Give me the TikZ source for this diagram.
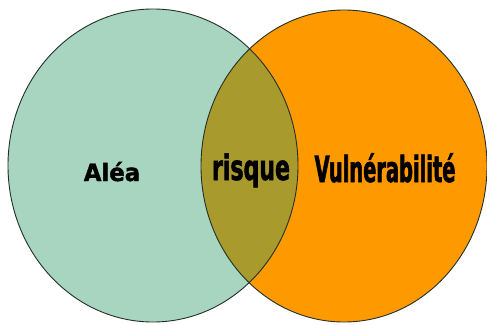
\documentclass[tikz,border=0pt]{standalone}
\usepackage{xcolor}
\usepackage{tikz}
\usepackage{fontspec}
\usetikzlibrary{
  positioning,
  calc,
  backgrounds
}
\newfontfamily\aleafont{DejaVu Sans}[FakeStretch=0.95, FakeBold=1.5]
\newfontfamily\risqfont{DejaVu Sans Condensed}[FakeStretch=0.7, FakeBold=1.5]
\newfontfamily\vulnfont{DejaVu Sans Condensed}[FakeStretch=0.6, FakeBold=1.5]
\definecolor{vnAlea}{HTML}{A7D5BF}
\definecolor{vnVuln}{HTML}{FF9900}
\definecolor{vnRisk}{HTML}{A99A2E}
\definecolor{vnLine}{HTML}{23302A}

\begin{document}
\begin{tikzpicture}[x=1pt, y=-1pt]
  \useasboundingbox (0,0) rectangle (487,324);
  \fill[white] (0,0) rectangle (487,324);
  % hazard circle
  \fill[vnAlea] (153,165.5) ellipse (145 and 156.5);
  % vulnerability circle
  \fill[vnVuln] (344,166) ellipse (143 and 156);
  % overlap = risk
  \begin{scope}
    \clip (153,165.5) ellipse (145 and 156.5);
    \fill[vnRisk] (344,166) ellipse (143 and 156);
  \end{scope}
  % outlines
  \draw[vnLine, line width=0.9pt] (153,165.5) ellipse (145 and 156.5);
  \draw[vnLine, line width=0.9pt] (344,166) ellipse (143 and 156);
  % labels
  \node[anchor=base, inner sep=0pt, font=\aleafont\bfseries\fontsize{24}{24}\selectfont] (alea) at (112,181) {Aléa};
  \node[anchor=base, inner sep=0pt, font=\risqfont\bfseries\fontsize{35}{35}\selectfont] (risque) at (251,180) {risque};
  \node[anchor=base, inner sep=0pt, font=\vulnfont\bfseries\fontsize{36}{36}\selectfont] (vuln) at (385,182) {Vulnérabilité};
\end{tikzpicture}
\end{document}
